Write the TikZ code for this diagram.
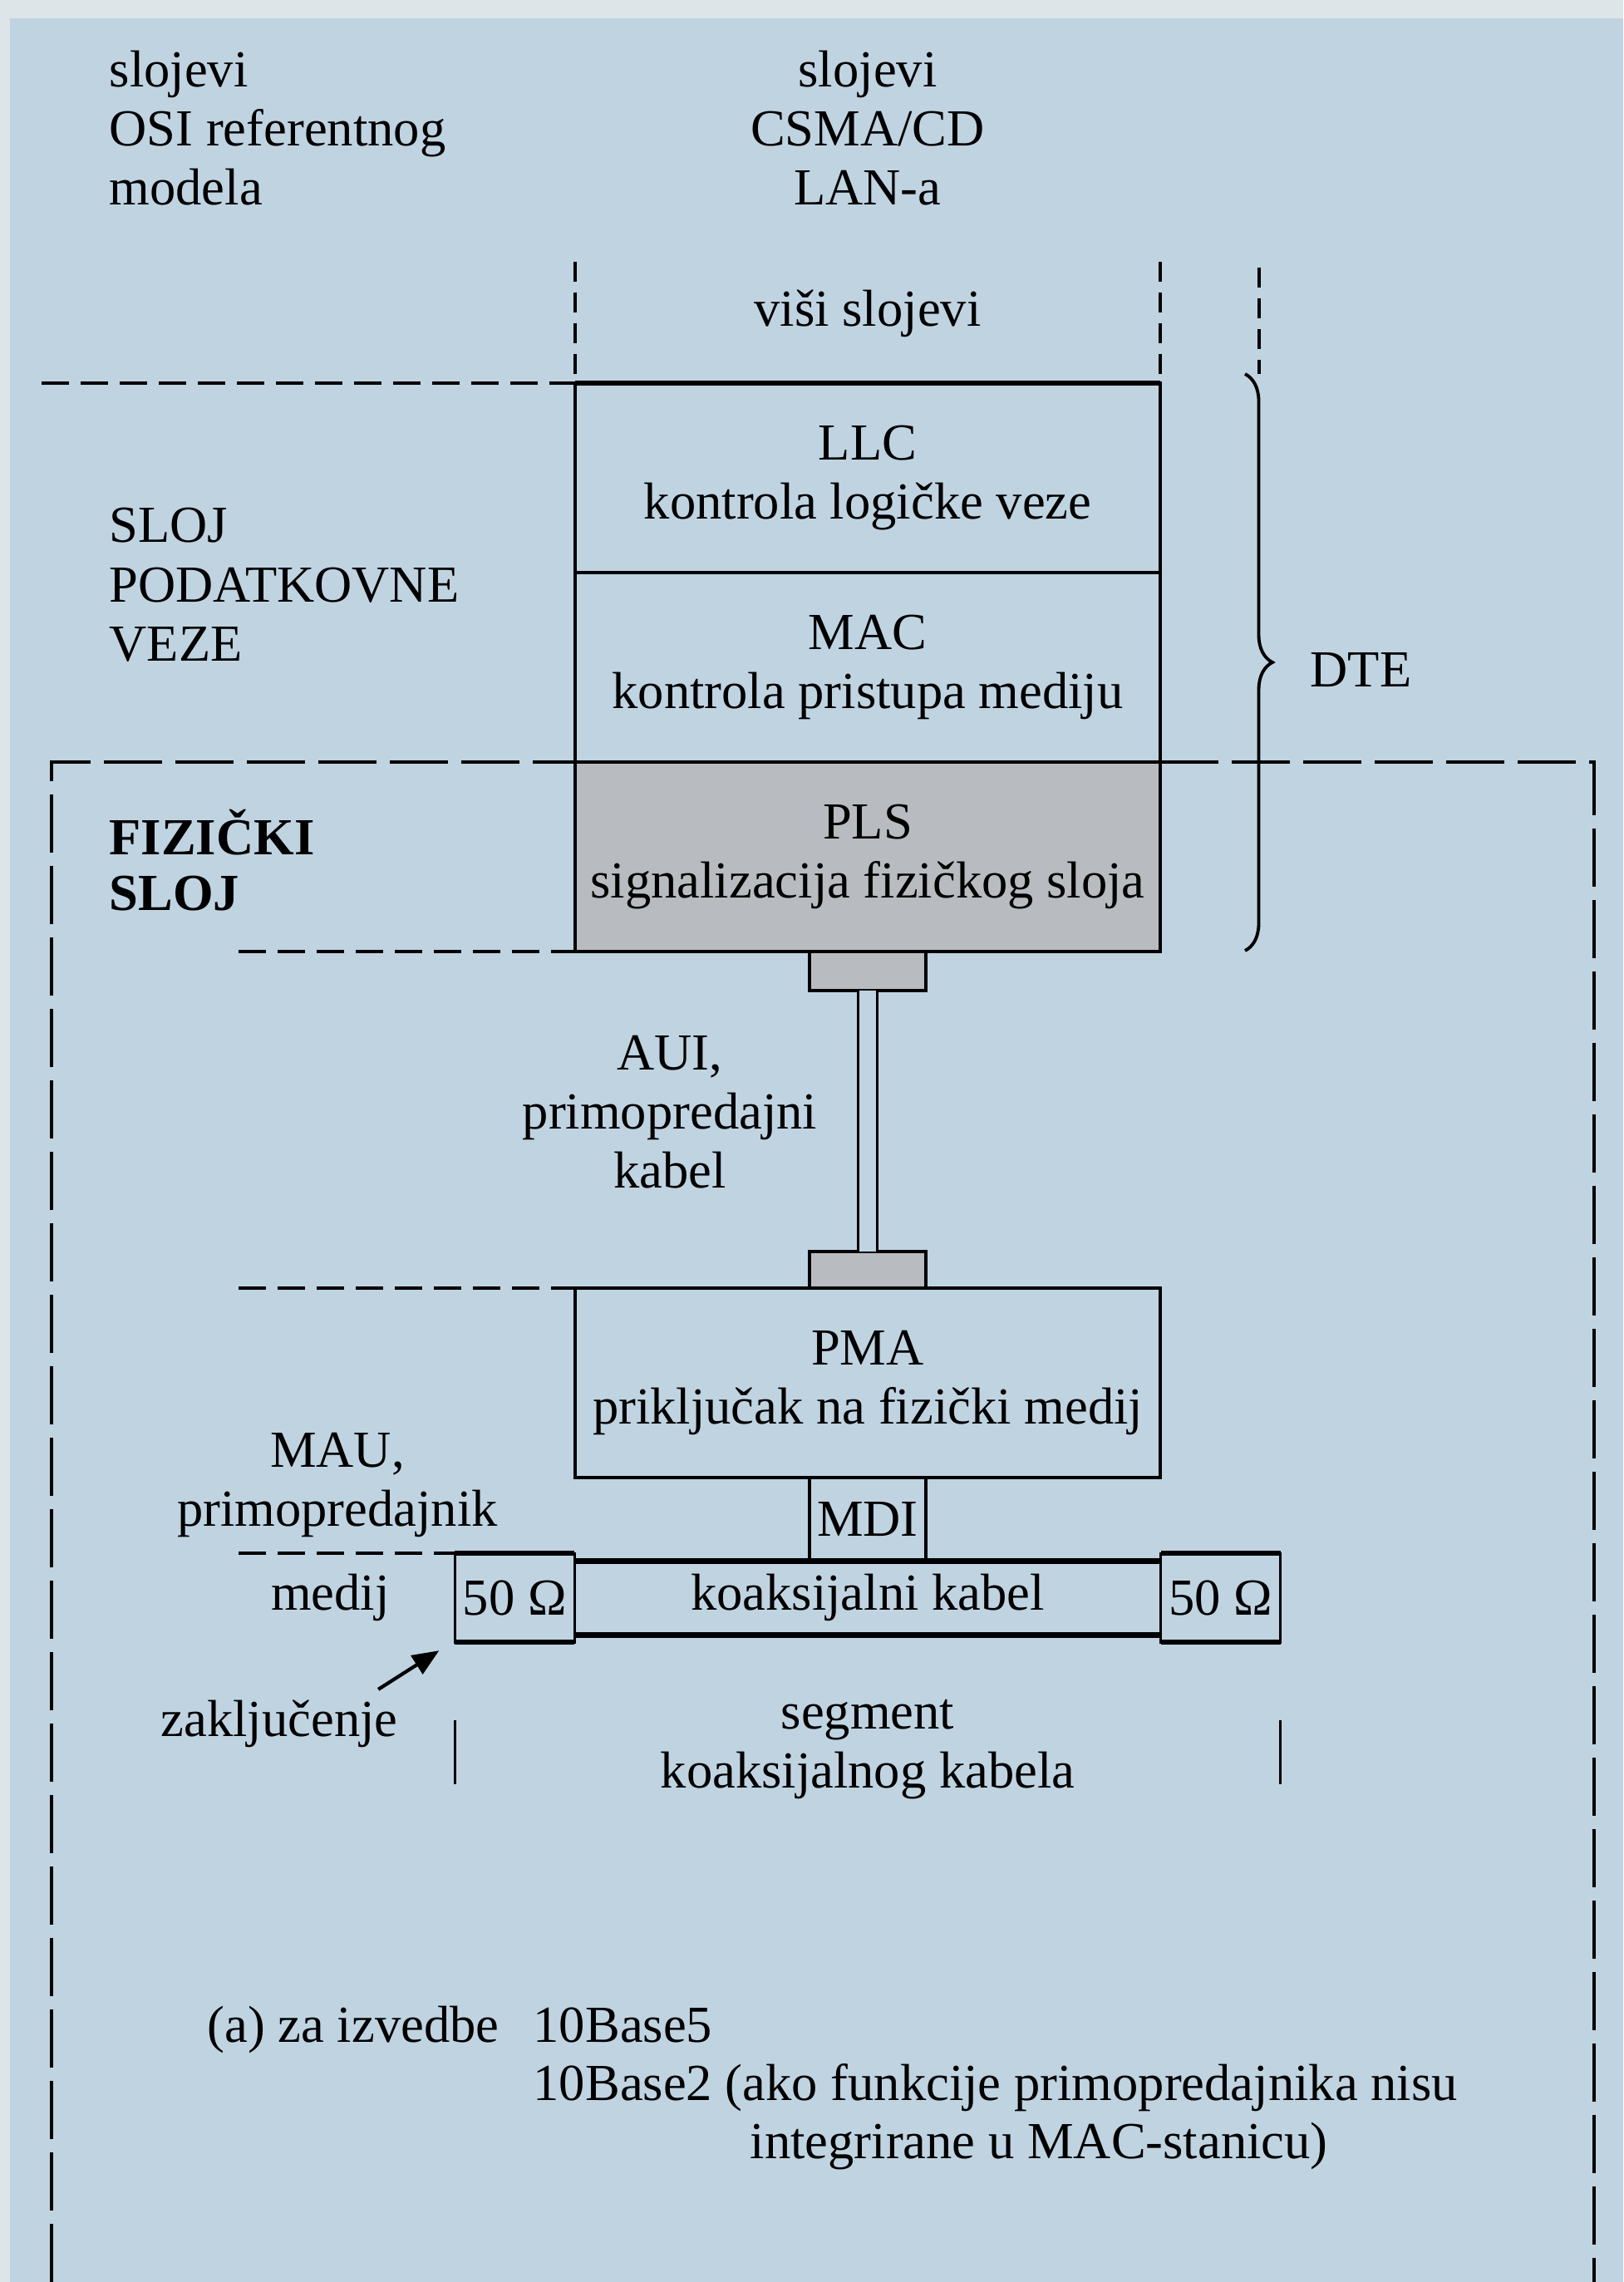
\documentclass[tikz,border=0pt]{standalone}
\usepackage{fontspec}
\setmainfont{Liberation Serif}
\usetikzlibrary{calc, positioning, arrows.meta, decorations.pathreplacing}
\definecolor{bgblue}{RGB}{192,211,225}
\definecolor{topstrip}{RGB}{222,229,233}
\definecolor{plsgray}{RGB}{184,188,193}

\begin{document}
\begin{tikzpicture}[
    node distance = 0cm and 0cm,
    every node/.style = {font=\fontsize{17.8}{20.3}\selectfont, inner sep=0pt},
    layer/.style = {draw, rectangle, minimum width=7.04cm, minimum height=2.28cm,
                    align=center, line width=1pt, outer sep=0pt},
    plug/.style = {draw, rectangle, minimum width=1.4cm, line width=0.9pt,
                   fill=plsgray, outer sep=0pt},
    term/.style = {draw, rectangle, minimum width=1.44cm, minimum height=1.07cm,
                   line width=0.9pt, outer sep=0pt},
    lbl/.style = {align=center},
    frame/.style = {line width=1.1pt, dash pattern=on 7mm off 1.6mm},
    divider/.style = {line width=1pt, dash pattern=on 3.3mm off 1.4mm},
    vdash/.style = {line width=1pt, dash pattern=on 2.4mm off 1.3mm},
    coaxline/.style = {line width=2pt},
    arr/.style = {-{Triangle[length=3.2mm, width=2.6mm]}, line width=1.2pt},
]
% background
\fill[bgblue] (0,0) rectangle (19.53,-27.46);
\fill[topstrip] (0,0) rectangle (19.53,-0.22);
\fill[topstrip] (0,0) rectangle (0.12,-27.46);
\useasboundingbox (0,0) rectangle (19.53,-27.46);

% column headers
\node[align=left, anchor=west] (osi) at (1.31,-1.54) {slojevi\\OSI referentnog\\modela};
\node[lbl] (csma) at (10.44,-1.54) {slojevi\\CSMA/CD\\LAN-a};
\node (visi) at (10.44,-3.77) {viši slojevi};

% DTE layers
\node[layer, anchor=north] (llc) at (10.44,-4.61) {LLC\\kontrola logičke veze};
\node[layer, below=of llc] (mac) {MAC\\kontrola pristupa mediju};
\node[layer, below=of mac, fill=plsgray] (pls) {PLS\\signalizacija fizičkog sloja};
\draw[line width=1.7pt] (llc.north west) -- (llc.north east);

% AUI cable and MAU
\node[plug, minimum height=0.47cm, below=of pls] (auitop) {};
\node[plug, minimum height=0.44cm, below=3.14cm of auitop] (auibot) {};
\node[layer, below=of auibot] (pma) {PMA\\priključak na fizički medij};
\node[draw, line width=0.9pt, outer sep=0pt, minimum width=1.4cm,
      minimum height=1.0cm, below=of pma] (mdi) {MDI};
\draw[line width=0.9pt, double=bgblue, double distance=0.2cm] (auitop) -- (auibot);

% medium
\node[minimum width=7.04cm, minimum height=0.88cm, below=of mdi] (coax) {koaksijalni kabel};
\node[term, left=of coax] (termL) {50 Ω};
\node[term, right=of coax] (termR) {50 Ω};
\draw[coaxline] (coax.north west) -- (coax.north east);
\draw[coaxline] (coax.south west) -- (coax.south east);
\foreach \t in {termL, termR}
  \draw[line width=1.6pt] (\t.north west) -- (\t.north east) (\t.south west) -- (\t.south east);

% left labels
\node[align=left, anchor=west] (dll) at (1.31,-7.04) {SLOJ\\PODATKOVNE\\VEZE};
\node[align=left, anchor=west, font=\fontsize{17.8}{19}\selectfont\bfseries] (phy) at (1.31,-10.35) {FIZIČKI\\SLOJ};
\node[lbl] (aui) at (8.06,-13.38) {AUI,\\primopredajni\\kabel};
\node[lbl] (mau) at (4.06,-17.87) {MAU,\\primopredajnik};
\node[left=0.78cm of termL] (medij) {medij};
\node (zak) at (3.36,-20.74) {zaključenje};
\node[lbl] (seg) at (10.44,-21.05) {segment\\koaksijalnog kabela};

% layer dividers
\coordinate (lft) at (2.87,0);
\draw[divider] (0.50,-4.61) -- (llc.north west);
\draw[divider] (lft |- pls.south west) -- (pls.south west);
\draw[divider] (lft |- pma.north west) -- (pma.north west);
\draw[divider] (lft |- termL.north west) -- (termL.north west);
\draw[vdash] ([yshift=1.46cm]llc.north west) -- (llc.north west);
\draw[vdash] ([yshift=1.46cm]llc.north east) -- (llc.north east);

% physical layer frame
\coordinate (frL) at (0.62,-27.46);
\coordinate (frR) at (19.18,-27.46);
\draw[frame] (frL) -- (frL |- pls.north) -- (pls.north west);
\draw[frame] (pls.north east) -- (frR |- pls.north) -- (frR);

% DTE brace
\coordinate (bt) at (14.98,-4.50);
\coordinate (bb) at (14.98,-11.44);
\draw[vdash] ($(bt)+(0.17,1.28)$) -- ($(bt)+(0.17,0)$);
\draw[decorate, decoration={brace, amplitude=0.33cm}, line width=1.1pt] (bt) -- (bb);
\node[anchor=west] (dte) at (15.76,-8.06) {DTE};

% segment markers and terminator arrow
\draw[line width=0.9pt] ([yshift=-0.94cm]termL.south west) -- ++(0,-0.77);
\draw[line width=0.9pt] ([yshift=-0.94cm]termR.south east) -- ++(0,-0.77);
\draw[arr] ([shift={(-0.24,0.12)}]zak.north east) -- ([shift={(-0.19,-0.10)}]termL.south west);

% note
\node[anchor=base west] (izv) at (2.49,-24.57) {(a) za izvedbe};
\node[anchor=base west] (b5) at (6.41,-24.57) {10Base5};
\node[anchor=base west] (b2) at (6.41,-25.27) {10Base2 (ako funkcije primopredajnika nisu};
\node[anchor=base west] (integ) at (9.02,-25.97) {integrirane u MAC-stanicu)};
\end{tikzpicture}
\end{document}
